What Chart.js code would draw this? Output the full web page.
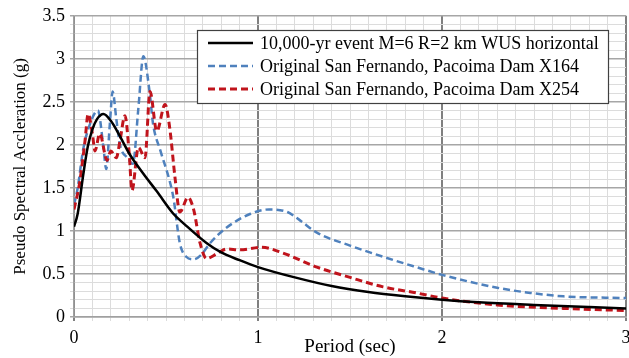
<!DOCTYPE html>
<html>
<head>
<meta charset="utf-8">
<script src="https://cdn.jsdelivr.net/npm/chart.js@4/dist/chart.umd.min.js"></script>
<style>
  html, body { margin: 0; padding: 0; background: #fff; }
  #wrap { width: 629px; height: 358px; position: relative; }
</style>
</head>
<body>
<div id="wrap"><canvas id="spectraChart"></canvas></div>
<script>
// Series labels
const seriesLabels = [
    '10,000-yr event M=6 R=2 km WUS horizontal',
    'Original San Fernando, Pacoima Dam X164',
    'Original San Fernando, Pacoima Dam X254'
];

// 10,000-yr event (solid black)
const periodTarget = [0, 0.02, 0.05, 0.075, 0.1, 0.125, 0.16, 0.2, 0.25, 0.3, 0.375, 0.45, 0.54, 0.6, 0.72, 0.8, 0.9, 1.0, 1.2, 1.4, 1.6, 1.8, 2.0, 2.2, 2.5, 2.8, 3.0];
const accelTarget = [1.05, 1.2, 1.65, 1.98, 2.18, 2.3, 2.36, 2.28, 2.1, 1.9, 1.67, 1.46, 1.2, 1.08, 0.86, 0.75, 0.66, 0.58, 0.46, 0.36, 0.29, 0.24, 0.2, 0.17, 0.14, 0.115, 0.1];

// X164 (blue dashed)
const periodX164 = [0, 0.02, 0.05, 0.08, 0.13, 0.16, 0.175, 0.195, 0.21, 0.23, 0.25, 0.29, 0.32, 0.35, 0.377, 0.41, 0.43, 0.47, 0.52, 0.54, 0.575, 0.61, 0.65, 0.69, 0.74, 0.83, 0.96, 1.06, 1.16, 1.23, 1.32, 1.5, 1.68, 1.86, 2.0, 2.3, 2.48, 2.66, 3.0];
const accelX164 = [1.3, 1.5, 1.95, 2.2, 2.4, 1.97, 1.72, 2.25, 2.62, 2.3, 2.0, 1.85, 1.78, 2.43, 3.03, 2.63, 2.24, 1.93, 1.58, 1.39, 0.86, 0.7, 0.67, 0.72, 0.86, 1.04, 1.2, 1.25, 1.22, 1.12, 0.98, 0.83, 0.7, 0.58, 0.49, 0.34, 0.28, 0.24, 0.22];

// X254 (red dashed)
const periodX254 = [0, 0.03, 0.06, 0.077, 0.1, 0.114, 0.14, 0.18, 0.2, 0.23, 0.25, 0.277, 0.3, 0.315, 0.35, 0.386, 0.413, 0.45, 0.495, 0.52, 0.55, 0.575, 0.62, 0.65, 0.685, 0.72, 0.78, 0.83, 0.9, 1.02, 1.14, 1.32, 1.5, 1.68, 1.86, 2.0, 2.3, 2.66, 3.0];
const accelX254 = [1.25, 1.55, 2.05, 2.36, 2.13, 1.93, 2.13, 1.82, 1.93, 1.85, 2.05, 2.34, 1.9, 1.47, 1.97, 1.85, 2.62, 2.16, 2.47, 2.2, 1.6, 1.22, 1.39, 1.25, 0.86, 0.68, 0.74, 0.79, 0.78, 0.81, 0.74, 0.58, 0.46, 0.35, 0.28, 0.22, 0.14, 0.1, 0.075];

function toPoints(xs, ys) {
    return xs.map((x, i) => ({ x: x, y: ys[i] }));
}

function isMultiple(v, step) {
    const r = v / step;
    return Math.abs(r - Math.round(r)) < 1e-6;
}

const SERIF = '"Liberation Serif", "DejaVu Serif", serif';

// Legend box drawn inside the plot, like the Excel original
const boxLegend = {
    id: 'boxLegend',
    afterDraw(chart) {
        const ctx = chart.ctx;
        const x = 197, y = 30, w = 411, h = 73;
        ctx.save();
        ctx.fillStyle = '#ffffff';
        ctx.fillRect(x, y, w, h);
        ctx.strokeStyle = '#404040';
        ctx.lineWidth = 1.2;
        ctx.strokeRect(x + 0.5, y + 0.5, w, h);
        chart.data.datasets.forEach((ds, i) => {
            const rowY = y + 13 + i * 23;
            ctx.beginPath();
            ctx.strokeStyle = ds.borderColor;
            ctx.lineWidth = ds.borderWidth;
            ctx.setLineDash(ds.borderDash || []);
            ctx.moveTo(208, rowY);
            ctx.lineTo(253, rowY);
            ctx.stroke();
            ctx.setLineDash([]);
            ctx.fillStyle = '#000';
            ctx.font = '18px ' + SERIF;
            ctx.textBaseline = 'middle';
            ctx.fillText(ds.label, 260, rowY + 1);
        });
        ctx.restore();
    }
};

const spectraCtx = document.getElementById('spectraChart');
const spectraChart = new Chart(spectraCtx, {
    type: 'line',
    data: {
        datasets: [{
            label: seriesLabels[0],
            data: toPoints(periodTarget, accelTarget),
            borderColor: '#000000',
            borderWidth: 2.5,
            pointRadius: 0,
            cubicInterpolationMode: 'monotone',
            order: 0
        }, {
            label: seriesLabels[1],
            data: toPoints(periodX164, accelX164),
            borderColor: '#4f81bd',
            borderWidth: 2.5,
            borderDash: [7, 4],
            pointRadius: 0,
            cubicInterpolationMode: 'monotone',
            order: 2
        }, {
            label: seriesLabels[2],
            data: toPoints(periodX254, accelX254),
            borderColor: '#c0141c',
            borderWidth: 3,
            borderDash: [7, 4],
            pointRadius: 0,
            cubicInterpolationMode: 'monotone',
            order: 1
        }]
    },
    options: {
        responsive: true,
        maintainAspectRatio: false,
        animation: false,
        layout: {
            padding: { top: 14, right: 3, left: 0, bottom: 0 }
        },
        plugins: {
            legend: { display: false },
            tooltip: { enabled: false }
        },
        scales: {
            x: {
                type: 'linear',
                min: 0,
                max: 3,
                border: { color: '#a0a0a0', width: 1.5 },
                grid: {
                    color: c => isMultiple(c.tick.value, 1) ? '#808080' : '#dcdcdc',
                    lineWidth: c => isMultiple(c.tick.value, 1) ? 2 : 1,
                    tickLength: 4
                },
                ticks: {
                    stepSize: 0.1,
                    autoSkip: false,
                    maxRotation: 0,
                    color: '#000',
                    font: { family: SERIF, size: 18 },
                    padding: 6,
                    callback: v => isMultiple(v, 1) ? String(Math.round(v)) : ''
                },
                title: {
                    display: true,
                    text: 'Period (sec)',
                    color: '#000',
                    font: { family: SERIF, size: 19 },
                    padding: { top: -6, bottom: 0 }
                },
                afterFit: s => {
                    s.height = 41;
                    s.paddingRight = 0;
                    s.paddingLeft = 0;
                }
            },
            y: {
                min: 0,
                max: 3.5,
                border: { color: '#a0a0a0', width: 1.5 },
                grid: {
                    color: c => isMultiple(c.tick.value, 0.5) ? '#a6a6a6' : '#dcdcdc',
                    lineWidth: c => isMultiple(c.tick.value, 0.5) ? 1.5 : 1,
                    tickLength: 4
                },
                ticks: {
                    stepSize: 0.1,
                    autoSkip: false,
                    color: '#000',
                    font: { family: SERIF, size: 18 },
                    padding: 5,
                    callback: v => isMultiple(v, 0.5) ? String(Math.round(v * 10) / 10) : ''
                },
                title: {
                    display: true,
                    text: 'Pseudo Spectral Accleration (g)',
                    color: '#000',
                    font: { family: SERIF, size: 17 },
                    padding: { top: 10, bottom: 0 }
                },
                afterFit: s => { s.width = 74; }
            }
        }
    },
    plugins: [boxLegend]
});
</script>
</body>
</html>
